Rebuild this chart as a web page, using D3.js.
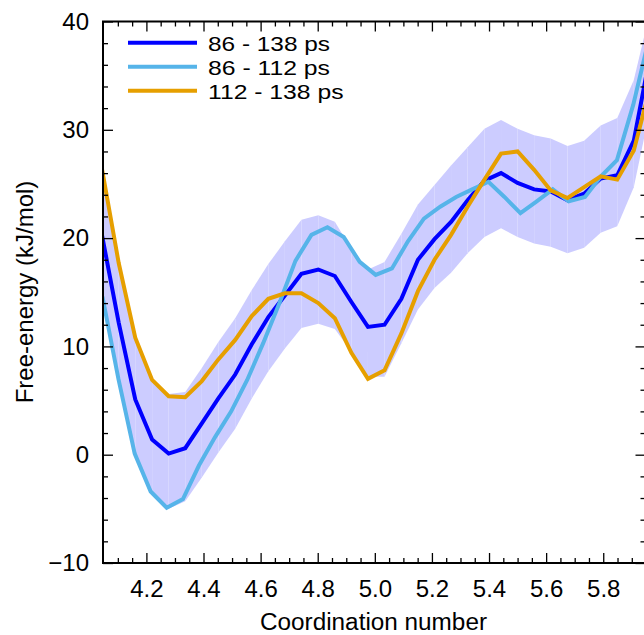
<!DOCTYPE html>
<html>
<head>
<meta charset="utf-8">
<script src="https://cdn.jsdelivr.net/npm/d3@7"></script>
<style>
  html, body { margin: 0; padding: 0; background: #ffffff; }
  svg { display: block; }
  text { font-family: "Liberation Sans", Arial, Helvetica, sans-serif; fill: #000; }
</style>
</head>
<body>
<svg id="chart" width="644" height="635"></svg>
<script>
// ---- Data ----
// x grid shared by the 86-138 ps curve, its error band and the 112-138 ps curve
const xMain = [4.045, 4.103, 4.161, 4.220, 4.278, 4.336, 4.394, 4.452, 4.511, 4.569,
               4.627, 4.685, 4.743, 4.802, 4.860, 4.918, 4.976, 5.034, 5.093, 5.151,
               5.209, 5.267, 5.325, 5.384, 5.442, 5.500, 5.558, 5.616, 5.675, 5.733,
               5.791, 5.849, 5.907, 5.965];
const series86_138 = [20.2, 12.2, 5.1, 1.4, 0.1, 0.6, 2.9, 5.2, 7.4, 10.2,
                      12.7, 14.7, 16.7, 17.1, 16.5, 14.1, 11.8, 12.0, 14.4, 18.0,
                      19.9, 21.5, 23.5, 25.3, 26.0, 25.1, 24.5, 24.3, 23.5, 24.1,
                      25.5, 25.8, 29.0, 37.0];
const series112_138 = [26.3, 17.7, 10.8, 6.9, 5.4, 5.3, 6.8, 8.8, 10.6, 12.8,
                       14.4, 14.9, 14.9, 14.0, 12.6, 9.4, 7.0, 7.8, 11.2, 15.1,
                       18.0, 20.3, 22.9, 25.4, 27.8, 28.0, 26.3, 24.4, 23.7, 24.7,
                       25.7, 25.4, 28.1, 34.0];
const bandUpper = [26.0, 18.0, 11.0, 7.0, 5.6, 5.8, 8.0, 10.4, 12.6, 15.2,
                   17.6, 19.7, 21.7, 22.1, 21.5, 19.0, 17.1, 17.8, 20.4, 23.1,
                   24.9, 26.7, 28.4, 30.1, 30.9, 30.1, 29.5, 29.2, 28.5, 29.0,
                   30.4, 31.1, 34.6, 41.0];
const bandLower = [14.5, 7.0, 0.0, -3.5, -5.0, -4.3, -2.1, 0.2, 2.4, 5.2,
                   7.7, 9.8, 11.7, 12.1, 11.6, 9.5, 7.2, 7.2, 10.3, 13.4,
                   15.4, 16.8, 18.6, 20.1, 20.9, 20.1, 19.5, 19.2, 18.6, 19.1,
                   20.5, 21.1, 24.7, 32.0];
// x grid of the 86-112 ps curve
const xShort = [4.046, 4.102, 4.159, 4.215, 4.271, 4.328, 4.384, 4.440, 4.497, 4.553,
                4.609, 4.666, 4.722, 4.778, 4.834, 4.891, 4.947, 5.003, 5.060, 5.116,
                5.172, 5.229, 5.285, 5.341, 5.398, 5.454, 5.510, 5.567, 5.623, 5.679,
                5.736, 5.792, 5.848, 5.905, 5.961];
const series86_112 = [14.6, 7.0, 0.1, -3.4, -4.9, -4.1, -1.0, 1.6, 4.0, 6.9,
                      10.3, 14.0, 17.9, 20.3, 21.0, 20.1, 17.8, 16.6, 17.2, 19.7,
                      21.8, 22.9, 23.8, 24.5, 25.2, 23.8, 22.3, 23.4, 24.5, 23.4,
                      23.8, 25.7, 27.2, 32.3, 38.5];

const legendLabels = ["86 - 138 ps", "86 - 112 ps", "112 - 138 ps"];
const xMajorTicks = [4.2, 4.4, 4.6, 4.8, 5.0, 5.2, 5.4, 5.6, 5.8];
const xMinorTicks = [4.1, 4.15, 4.25, 4.3, 4.35, 4.45, 4.5, 4.55, 4.65, 4.7, 4.75,
                     4.85, 4.9, 4.95, 5.05, 5.1, 5.15, 5.25, 5.3, 5.35, 5.45, 5.5, 5.55,
                     5.65, 5.7, 5.75, 5.85, 5.9];
const yMajorTicks = [-10, 0, 10, 20, 30, 40];
const yMinorTicks = [-8, -6, -4, -2, 2, 4, 6, 8, 12, 14, 16, 18, 22, 24, 26, 28, 32, 34, 36, 38];
const xTitle = "Coordination number";
const yTitle = "Free-energy (kJ/mol)";

// ---- Layout ----
const L = 103, R = 645.5, T = 21.5, B = 563;
const colors = ["#0000ff", "#56b4e9", "#e69f00"];
const bandColor = "#ccccff";
const FONT = "'Liberation Sans', Arial, Helvetica, sans-serif";

const svg = d3.select("#chart");
const x = d3.scaleLinear().domain([4.048, 5.948]).range([L, R]);
const y = d3.scaleLinear().domain([-10, 40]).range([B, T]);

svg.append("defs").append("clipPath").attr("id", "plotclip")
  .append("rect").attr("x", L).attr("y", T).attr("width", R - L).attr("height", B - T);

const plot = svg.append("g").attr("clip-path", "url(#plotclip)");

// error band, drawn segment by segment
const area = d3.area()
  .x(i => x(xMain[i]))
  .y0(i => y(bandLower[i]))
  .y1(i => y(bandUpper[i]));
for (let i = 0; i < xMain.length - 1; i++) {
  plot.append("path").attr("d", area([i, i + 1])).attr("fill", bandColor);
}

const lineMain = d3.line().x((d, i) => x(xMain[i])).y(d => y(d));
const lineShort = d3.line().x((d, i) => x(xShort[i])).y(d => y(d));

plot.append("path").attr("d", lineMain(series86_138))
  .attr("fill", "none").attr("stroke", colors[0]).attr("stroke-width", 4);
plot.append("path").attr("d", lineShort(series86_112))
  .attr("fill", "none").attr("stroke", colors[1]).attr("stroke-width", 4);
plot.append("path").attr("d", lineMain(series112_138))
  .attr("fill", "none").attr("stroke", colors[2]).attr("stroke-width", 4);

// ---- Axes ----
const fmt = d3.format(".1f");
function styleAxis(g) {
  g.select(".domain").remove();
  g.selectAll(".tick line").attr("stroke", "#000").attr("stroke-width", 1.3);
  g.selectAll(".tick text").style("font-size", "24px")
    .style("font-family", FONT).attr("fill", "#000");
}
// bottom
svg.append("g").attr("transform", `translate(0,${B})`)
  .call(d3.axisBottom(x).tickValues(xMajorTicks).tickFormat(fmt).tickSizeInner(-10).tickSizeOuter(0).tickPadding(17))
  .call(styleAxis);
svg.append("g").attr("transform", `translate(0,${B})`)
  .call(d3.axisBottom(x).tickValues(xMinorTicks).tickFormat("").tickSizeInner(-5).tickSizeOuter(0))
  .call(styleAxis);
// top
svg.append("g").attr("transform", `translate(0,${T})`)
  .call(d3.axisTop(x).tickValues(xMajorTicks).tickFormat("").tickSizeInner(-10).tickSizeOuter(0))
  .call(styleAxis);
svg.append("g").attr("transform", `translate(0,${T})`)
  .call(d3.axisTop(x).tickValues(xMinorTicks).tickFormat("").tickSizeInner(-5).tickSizeOuter(0))
  .call(styleAxis);
// left
svg.append("g").attr("transform", `translate(${L},0)`)
  .call(d3.axisLeft(y).tickValues(yMajorTicks).tickFormat(d3.format("d")).tickSizeInner(-10).tickSizeOuter(0).tickPadding(14))
  .call(styleAxis);
svg.append("g").attr("transform", `translate(${L},0)`)
  .call(d3.axisLeft(y).tickValues(yMinorTicks).tickFormat("").tickSizeInner(-5).tickSizeOuter(0))
  .call(styleAxis);
// right
svg.append("g").attr("transform", `translate(${R},0)`)
  .call(d3.axisRight(y).tickValues(yMajorTicks).tickFormat("").tickSizeInner(-10).tickSizeOuter(0))
  .call(styleAxis);
svg.append("g").attr("transform", `translate(${R},0)`)
  .call(d3.axisRight(y).tickValues(yMinorTicks).tickFormat("").tickSizeInner(-5).tickSizeOuter(0))
  .call(styleAxis);

// frame
svg.append("rect").attr("x", L).attr("y", T).attr("width", R - L).attr("height", B - T)
  .attr("fill", "none").attr("stroke", "#000").attr("stroke-width", 2);

// ---- Titles ----
svg.append("text").attr("x", 373.5).attr("y", 629.5).attr("text-anchor", "middle")
  .attr("textLength", 227).attr("lengthAdjust", "spacingAndGlyphs")
  .style("font-size", "23px").text(xTitle);
svg.append("text").attr("transform", "translate(33,292) rotate(-90)").attr("text-anchor", "middle")
  .style("font-size", "24px").text(yTitle);

// ---- Legend ----
const legendWidths = [122, 122, 135.5];
const legend = svg.append("g");
legendLabels.forEach((lab, i) => {
  const ly = 42.7 + i * 24;
  legend.append("line").attr("x1", 128).attr("x2", 197).attr("y1", ly).attr("y2", ly)
    .attr("stroke", colors[i]).attr("stroke-width", 4);
  legend.append("text").attr("x", 208).attr("y", ly + 8.3)
    .attr("textLength", legendWidths[i]).attr("lengthAdjust", "spacingAndGlyphs")
    .style("font-size", "20.8px").text(lab);
});
</script>
</body>
</html>
